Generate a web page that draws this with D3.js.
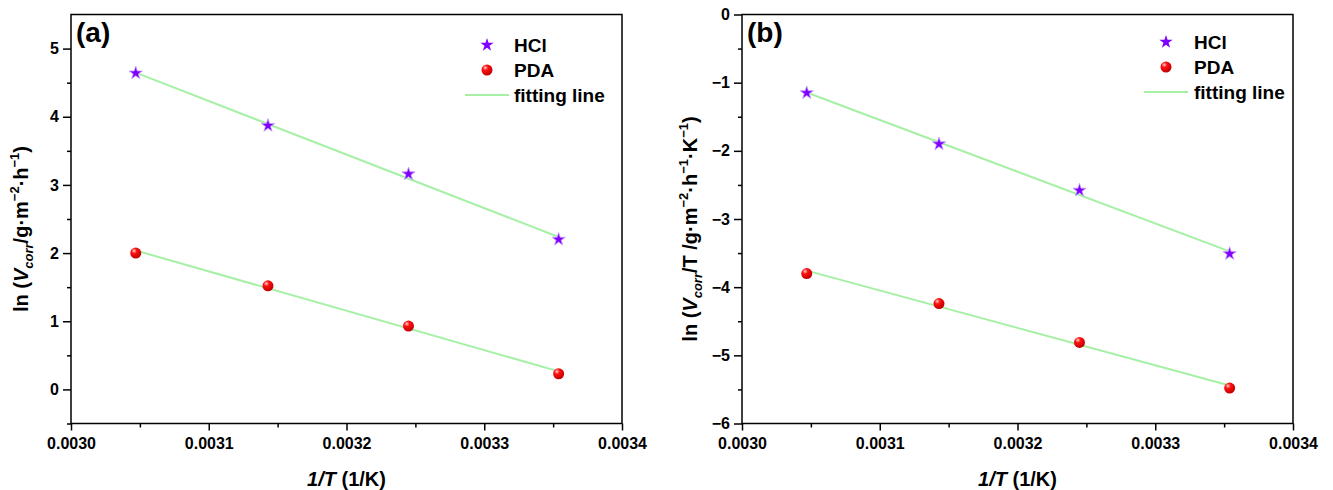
<!DOCTYPE html>
<html>
<head>
<meta charset="utf-8">
<script src="https://cdn.jsdelivr.net/npm/d3@7"></script>
<style>
body { margin: 0; background: #fff; }
svg text { font-family: "Liberation Sans", Arial, sans-serif; font-weight: bold; }
</style>
</head>
<body>
<script>
// 1/T values (1/K) and ln values
var invT = [0.003047, 0.003143, 0.003245, 0.003354];
var hclA = [4.64, 3.87, 3.16, 2.20];
var pdaA = [2.00, 1.52, 0.93, 0.23];
var hclB = [-1.15, -1.90, -2.58, -3.51];
var pdaB = [-3.80, -4.24, -4.81, -5.48];
var xTicks = [0.0030, 0.0031, 0.0032, 0.0033, 0.0034];
var yTicksA = [0, 1, 2, 3, 4, 5];
var yTicksB = [-6, -5, -4, -3, -2, -1, 0];
var legendNames = ["HCl", "PDA", "fitting line"];

var W = 1333, H = 490;
var svg = d3.select("body").append("svg").attr("width", W).attr("height", H);

var defs = svg.append("defs");
var grad = defs.append("radialGradient").attr("id", "ball")
  .attr("cx", "35%").attr("cy", "30%").attr("r", "70%");
grad.append("stop").attr("offset", "0%").attr("stop-color", "#ffd0d0");
grad.append("stop").attr("offset", "35%").attr("stop-color", "#ff1010");
grad.append("stop").attr("offset", "100%").attr("stop-color", "#c00000");

var starColor = "#8000ff";
var lineColor = "#a6f0a6";

// least squares fit of the points, as the original fitting line
function fit(xs, ys) {
  var mx = d3.mean(xs), my = d3.mean(ys);
  var sxy = d3.sum(xs, function(d, i) { return (d - mx) * (ys[i] - my); });
  var sxx = d3.sum(xs, function(d) { return (d - mx) * (d - mx); });
  var k = sxy / sxx;
  return function(v) { return my + k * (v - mx); };
}

function drawPanel(p) {
  var x = d3.scaleLinear().domain([0.0030, 0.0034]).range([p.l, p.r]);
  var y = d3.scaleLinear().domain(p.yd).range([p.b, p.t]);
  var g = svg.append("g");

  // x minor / major
  g.append("g").attr("transform", "translate(0," + p.b + ")")
    .call(d3.axisBottom(x).tickValues(d3.range(0.00305, 0.0034, 0.0001)).tickSize(4).tickFormat(""))
    .call(function(s) { s.select(".domain").remove(); });
  var xa = g.append("g").attr("transform", "translate(0," + p.b + ")")
    .call(d3.axisBottom(x).tickValues(xTicks).tickSize(7).tickPadding(7).tickFormat(d3.format(".4f")));
  xa.select(".domain").remove();

  // y minor / major
  var half = p.yTicks.slice(0, -1).map(function(d) { return d + 0.5; });
  if (p.yd[0] < p.yTicks[0]) half.unshift(p.yTicks[0] - 0.5);
  g.append("g").attr("transform", "translate(" + p.l + ",0)")
    .call(d3.axisLeft(y).tickValues(half).tickSize(4).tickFormat(""))
    .call(function(s) { s.select(".domain").remove(); });
  var ya = g.append("g").attr("transform", "translate(" + p.l + ",0)")
    .call(d3.axisLeft(y).tickValues(p.yTicks).tickSize(8).tickPadding(4).tickFormat(d3.format("d")));
  ya.select(".domain").remove();

  g.selectAll(".tick line").attr("stroke", "#000").attr("stroke-width", 1.5);
  g.selectAll(".tick text").attr("font-size", 16).attr("fill", "#000")
    .style("font-family", "'Liberation Sans', Arial, sans-serif").style("font-weight", "bold");

  // frame
  g.append("rect").attr("x", p.l).attr("y", p.t).attr("width", p.r - p.l).attr("height", p.b - p.t)
    .attr("fill", "none").attr("stroke", "#000").attr("stroke-width", 1.5);

  // fitting lines
  [p.hcl, p.pda].forEach(function(ys) {
    var f = fit(invT, ys);
    var ends = [invT[0], invT[invT.length - 1]];
    g.append("path")
      .attr("d", d3.line().x(function(d) { return x(d); }).y(function(d) { return y(f(d)); })(ends))
      .attr("fill", "none").attr("stroke", lineColor).attr("stroke-width", 2);
  });

  // points
  g.selectAll(".star").data(p.hcl).enter().append("path")
    .attr("transform", function(d, i) { return "translate(" + x(invT[i]) + "," + y(d) + ")"; })
    .attr("d", d3.symbol().type(d3.symbolStar).size(55)())
    .attr("fill", starColor).attr("stroke", "#c9a0ff").attr("stroke-width", 0.8);
  g.selectAll(".ball").data(p.pda).enter().append("circle")
    .attr("cx", function(d, i) { return x(invT[i]); })
    .attr("cy", function(d) { return y(d); })
    .attr("r", 5.5).attr("fill", "url(#ball)");

  // legend
  var lg = g.append("g");
  lg.append("path").attr("transform", "translate(" + p.lx + "," + p.ly + ")")
    .attr("d", d3.symbol().type(d3.symbolStar).size(55)()).attr("fill", starColor);
  lg.append("circle").attr("cx", p.lx).attr("cy", p.ly + 25).attr("r", 5.5).attr("fill", "url(#ball)");
  lg.append("line").attr("x1", p.lx - 22).attr("x2", p.lx + 22).attr("y1", p.ly + 50).attr("y2", p.ly + 50)
    .attr("stroke", lineColor).attr("stroke-width", 2);
  lg.selectAll("text").data(legendNames).enter().append("text")
    .attr("x", p.tx).attr("y", function(d, i) { return p.ly + 7 + i * 25; })
    .attr("font-size", 19).text(function(d) { return d; });

  // panel tag
  g.append("text").attr("x", p.l + 5).attr("y", p.t + 27).attr("font-size", 28).text(p.tag);

  // x title
  var xt = g.append("text").attr("x", (p.l + p.r) / 2).attr("y", p.b + 62)
    .attr("text-anchor", "middle").attr("font-size", 20);
  xt.append("tspan").attr("font-style", "italic").text("1/T");
  xt.append("tspan").text(" (1/K)");

  // y title
  var yt = g.append("text")
    .attr("transform", "translate(" + p.yx + "," + ((p.t + p.b) / 2 + 10) + ") rotate(-90)")
    .attr("text-anchor", "middle").attr("font-size", 20);
  p.ylabel.forEach(function(part) {
    var t = yt.append("tspan").text(part[0]);
    if (part[1] === "i") t.attr("font-style", "italic");
    if (part[1] === "sub") t.attr("font-style", "italic").attr("font-size", 13).attr("dy", 5);
    if (part[1] === "sup") t.attr("font-size", 13).attr("dy", -9);
    if (part[2]) t.attr("dy", part[2]);
  });
}

drawPanel({
  l: 71, r: 622, t: 14.5, b: 423.5, yd: [-0.5, 5.5], yTicks: yTicksA,
  hcl: hclA, pda: pdaA, tag: "(a)",
  lx: 487, ly: 45, tx: 514, yx: 28,
  ylabel: [["ln ("], ["V", "i"], ["corr", "sub"], ["/g\u00b7m", "", -5], ["\u22122", "sup"], ["\u00b7h", "", 9], ["\u22121", "sup"], [")", "", 9]]
});
drawPanel({
  l: 742, r: 1293, t: 14.5, b: 423.5, yd: [-6, 0], yTicks: yTicksB,
  hcl: hclB, pda: pdaB, tag: "(b)",
  lx: 1166, ly: 42, tx: 1194, yx: 697,
  ylabel: [["ln ("], ["V", "i"], ["corr", "sub"], ["/T /g\u00b7m", "", -5], ["\u22122", "sup"], ["\u00b7h", "", 9], ["\u22121", "sup"], ["\u00b7K", "", 9], ["\u22121", "sup"], [")", "", 9]]
});
</script>
</body>
</html>
